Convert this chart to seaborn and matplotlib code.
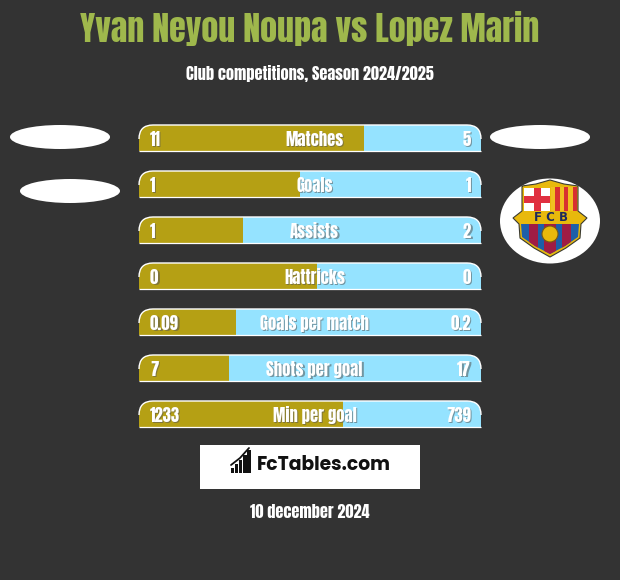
import matplotlib
matplotlib.use("Agg")
import matplotlib.pyplot as plt
from matplotlib.patches import Ellipse, Rectangle, PathPatch, Circle, Polygon
from matplotlib.path import Path
import pandas as pd
import seaborn as sns

title = "Yvan Neyou Noupa vs Lopez Marin"
subtitle = "Club competitions, Season 2024/2025"
date_text = "10 december 2024"
brand = "FcTables.com"
categories = ["Matches", "Goals", "Assists", "Hattricks", "Goals per match", "Shots per goal", "Min per goal"]
left_labels = ["11", "1", "1", "0", "0.09", "7", "1233"]
right_labels = ["5", "1", "2", "0", "0.2", "17", "739"]
left_share = [65.8, 47.1, 30.4, 52.0, 28.4, 26.3, 59.6]
whole = [100, 100, 100, 100, 100, 100, 100]

BG, GOLD, SKY = "#333333", "#b5a014", "#95e3ff"
NARROW = ["Anton", "Archivo Narrow", "DejaVu Sans"]
sns.set_theme(style="white", rc={"figure.facecolor": BG, "axes.facecolor": "none"})
df = pd.DataFrame({"cat": categories, "left": left_share, "whole": whole})

fig = plt.figure(figsize=(6.2, 5.8), dpi=100, facecolor=BG)
W, H = 620, 580
ax = fig.add_axes([139 / W, 1 - 437 / H, 342 / W, 322 / H])
sns.barplot(data=df, y="cat", x="whole", color=SKY, width=26 / 46, saturation=1, ax=ax, linewidth=0)
sns.barplot(data=df, y="cat", x="left", color=GOLD, width=26 / 46, saturation=1, ax=ax, linewidth=0)
ax.set_xlim(0, 100)
ax.set_ylim(6.5, -0.5)
ax.axis("off")

def top_round(i):
    h = 13 / 46
    rx, ry = 14 / 3.42, 14 / 46
    x0, x1, y0, y1 = 0, 100, i + h, i - h
    verts = [(x0, y0), (x0, y1 + ry), (x0, y1), (x0 + rx, y1), (x1 - rx, y1), (x1, y1), (x1, y1 + ry), (x1, y0), (x0, y0)]
    codes = [Path.MOVETO, Path.LINETO, Path.CURVE3, Path.CURVE3, Path.LINETO, Path.CURVE3, Path.CURVE3, Path.LINETO, Path.CLOSEPOLY]
    return Path(verts, codes)

n = len(categories)
shapes = [PathPatch(top_round(i), transform=ax.transData, fc="none", ec="none") for i in range(n)]
for s in shapes:
    ax.add_patch(s)
for j, bar in enumerate(ax.patches[:2 * n]):
    bar.set_clip_path(shapes[j % n])
for i in range(n):
    v = top_round(i).vertices
    rim = Path(v[1:7], [Path.MOVETO, Path.CURVE3, Path.CURVE3, Path.LINETO, Path.CURVE3, Path.CURVE3])
    ax.add_patch(PathPatch(rim, fc="none", ec="white", lw=1.0, clip_on=False, zorder=4))
    ax.plot([v[0][0], v[7][0]], [v[0][1], v[7][1]], color="white", lw=0.9, zorder=4, clip_on=False, solid_capstyle="butt")

def label(a, x, y, s, ha, fs=12):
    a.text(x + 1.2, y + 1.2, s, ha=ha, va="center", color="#555555", alpha=0.55, fontsize=fs, family=NARROW, zorder=5)
    a.text(x, y, s, ha=ha, va="center", color="white", fontsize=fs, family=NARROW, zorder=6)

ov = fig.add_axes([0, 0, 1, 1], zorder=3)
ov.set_xlim(0, W)
ov.set_ylim(H, 0)
ov.axis("off")
ov.patch.set_alpha(0)

for i, c in enumerate(categories):
    y = 139 + 46 * i
    label(ov, 314.5, y, c, "center")
    label(ov, 150, y, left_labels[i], "left")
    label(ov, 471, y, right_labels[i], "right")

ov.text(310, 28, title, ha="center", va="center", color="#9fb84c", fontsize=24.5, family=NARROW)
ov.text(310, 74, subtitle, ha="center", va="center", color="white", fontsize=11.7, family=NARROW)
ov.text(310, 512, date_text, ha="center", va="center", color="white", fontsize=11.7, family=NARROW)

for cx, cy in [(60, 137), (70, 191), (540, 137)]:
    ov.add_patch(Ellipse((cx, cy), 100, 24, fc="white", ec="none"))
ov.add_patch(Ellipse((550, 221), 100, 85, fc="white", ec="none"))

# crest
outline = Path([(522, 186), (536, 184), (550, 180), (564, 184), (578, 186), (578, 211), (587, 218), (581, 224),
                (580, 238), (566, 248), (550, 257), (534, 248), (520, 238), (519, 224), (513, 218), (522, 211), (522, 186)])
ov.add_patch(PathPatch(outline, fc="#e8b90c", ec="#3a3a30", lw=0.8))
ov.add_patch(Rectangle((524, 188), 26, 23, fc="white", ec="none"))
ov.add_patch(Rectangle((534, 188), 6.5, 23, fc="#e03040", ec="none"))
ov.add_patch(Rectangle((524, 196), 26, 6.5, fc="#e03040", ec="none"))
for k in range(6):
    ov.add_patch(Rectangle((551 + k * 4.3, 187), 4.3, 24, fc="#f0c020" if k % 2 == 0 else "#d83030", ec="none"))
low = Polygon([(521, 224), (579, 224), (578, 237), (565, 246), (550, 254), (535, 246), (522, 237)], closed=True, fc="#1d5fa8", ec="none")
ov.add_patch(low)
for xs, ws in [(529, 9), (544, 12), (562, 9)]:
    r = Rectangle((xs, 224), ws, 32, fc="#a01c44", ec="none")
    ov.add_patch(r)
    r.set_clip_path(low)
ov.add_patch(Circle((550, 234), 8, fc="#e8b90c", ec="#7a5a10", lw=0.8))
ov.text(550.5, 217.5, "F C B", ha="center", va="center", fontsize=8.5, weight="bold", color="#1d2a5c", family="DejaVu Sans")

# brand box
ov.add_patch(Rectangle((200, 445), 220, 44, fc="white", ec="none"))
for k, bh in enumerate([5, 9, 13, 18, 23]):
    ov.add_patch(Rectangle((231 + k * 4.1, 473 - bh), 3.2, bh, fc="#111111", ec="none"))
ov.plot([231, 240, 249], [465, 458, 448], color="#111111", lw=1.3)
ov.text(257, 466, brand, ha="left", va="center", color="#111111", fontsize=13.5, family=["Poppins", "Montserrat", "Open Sans"], weight="bold")

fig.savefig("out.png", dpi=100, facecolor=BG)
